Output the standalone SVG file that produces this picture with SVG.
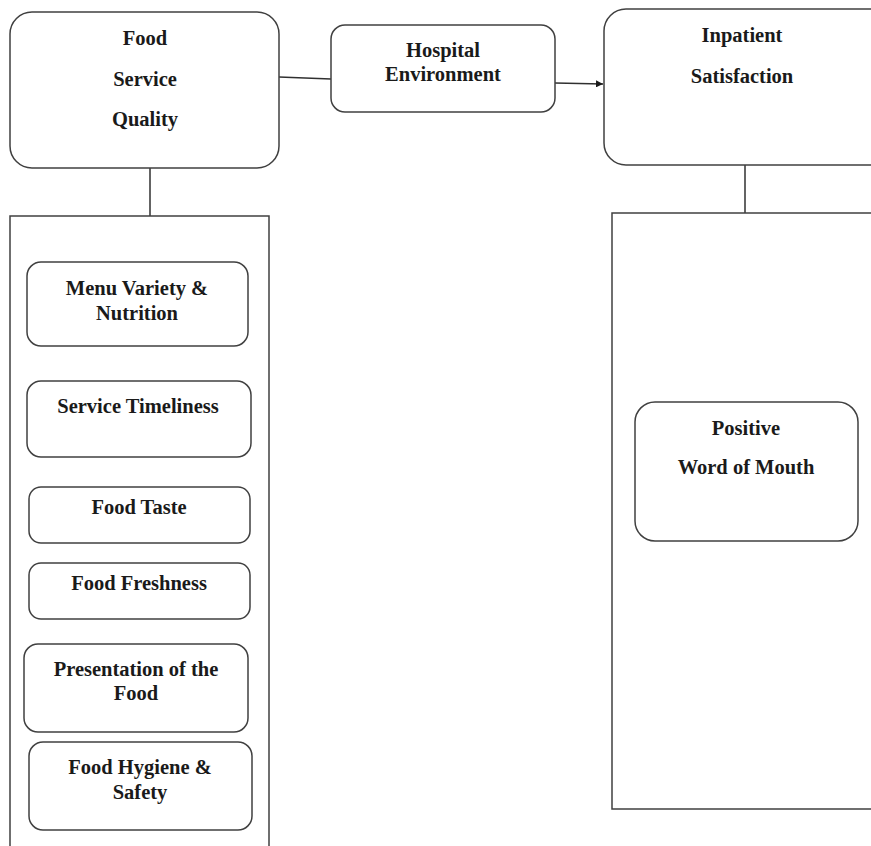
<svg xmlns="http://www.w3.org/2000/svg" width="871" height="846" viewBox="0 0 871 846">
<defs>
<style>
.box{fill:#fff;stroke:#404040;stroke-width:1.5}
.frame{fill:none;stroke:#404040;stroke-width:1.5}
.ln{fill:none;stroke:#303030;stroke-width:1.5}
text{font-family:"Liberation Serif","Times New Roman",serif;font-weight:bold;font-size:20.5px;fill:#1a1a1a;text-anchor:middle}
</style>
<marker id="ah" viewBox="0 0 10 10" refX="10" refY="5" markerWidth="7" markerHeight="7" orient="auto" markerUnits="userSpaceOnUse">
<path d="M0,0 L10,5 L0,10 z" fill="#1a1a1a"/>
</marker>
</defs>
<rect width="871" height="846" fill="#fff"/>
<g id="connectors">
<line class="ln" x1="279" y1="77" x2="331" y2="79"/>
<line class="ln" x1="555" y1="83" x2="603" y2="84" marker-end="url(#ah)"/>
<line class="ln" x1="150" y1="168" x2="150" y2="216"/>
<line class="ln" x1="745" y1="165" x2="745" y2="213"/>
</g>
<g id="left-frame">
<path class="frame" d="M10,850 L10,216 L269,216 L269,850"/>
</g>
<g id="right-frame">
<path class="frame" d="M880,213 L612,213 L612,809 L880,809"/>
</g>
<g id="food-service-quality">
<rect class="box" x="10" y="12" width="269" height="156" rx="22"/>
<text x="145" y="45">Food</text>
<text x="145" y="86">Service</text>
<text x="145" y="126">Quality</text>
</g>
<g id="hospital-environment">
<rect class="box" x="331" y="25" width="224" height="87" rx="14"/>
<text x="443" y="57">Hospital</text>
<text x="443" y="81">Environment</text>
</g>
<g id="inpatient-satisfaction">
<rect class="box" x="604" y="9" width="290" height="156" rx="22"/>
<text x="742" y="42">Inpatient</text>
<text x="742" y="83">Satisfaction</text>
</g>
<g id="menu-variety">
<rect class="box" x="27" y="262" width="221" height="84" rx="14"/>
<text x="137" y="295">Menu Variety &amp;</text>
<text x="137" y="320">Nutrition</text>
</g>
<g id="service-timeliness">
<rect class="box" x="27" y="381" width="224" height="76" rx="14"/>
<text x="138" y="413">Service Timeliness</text>
</g>
<g id="food-taste">
<rect class="box" x="29" y="487" width="221" height="56" rx="12"/>
<text x="139" y="514">Food Taste</text>
</g>
<g id="food-freshness">
<rect class="box" x="29" y="563" width="221" height="56" rx="12"/>
<text x="139" y="590">Food Freshness</text>
</g>
<g id="presentation">
<rect class="box" x="24" y="644" width="224" height="88" rx="14"/>
<text x="136" y="676">Presentation of the</text>
<text x="136" y="700">Food</text>
</g>
<g id="hygiene">
<rect class="box" x="29" y="742" width="223" height="88" rx="14"/>
<text x="140" y="774">Food Hygiene &amp;</text>
<text x="140" y="799">Safety</text>
</g>
<g id="positive-wom">
<rect class="box" x="635" y="402" width="223" height="139" rx="20"/>
<text x="746" y="435">Positive</text>
<text x="746" y="474">Word of Mouth</text>
</g>
</svg>
